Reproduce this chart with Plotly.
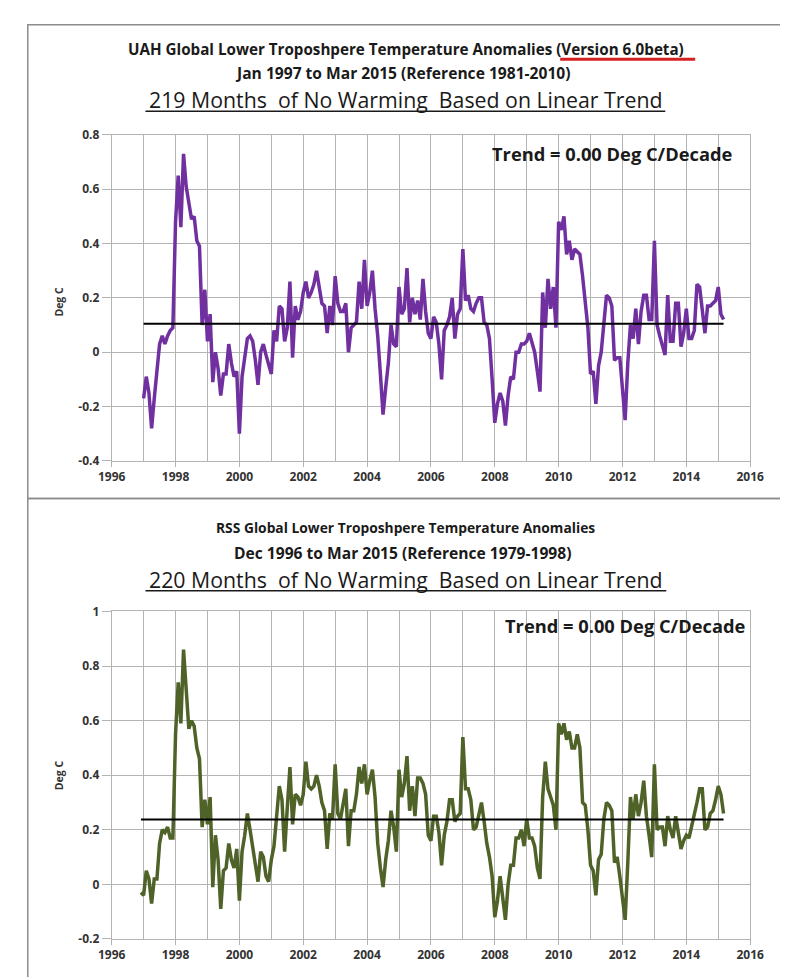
import numpy as np
import plotly.graph_objects as go

W, H = 788, 977

# ---------------- data ----------------
uah_start = 1997.0          # Jan 1997
uah_values = [
    -0.17, -0.09, -0.15, -0.28, -0.17, -0.06, 0.03, 0.06, 0.03, 0.06, 0.08, 0.09,   # 1997
    0.48, 0.65, 0.46, 0.73, 0.61, 0.55, 0.49, 0.50, 0.41, 0.39, 0.10, 0.23,        # 1998
    0.04, 0.14, -0.11, 0.00, -0.06, -0.16, -0.08, -0.08, 0.03, -0.04, -0.09, -0.07, # 1999
    -0.30, -0.09, -0.02, 0.05, 0.06, 0.04, -0.03, -0.12, 0.00, 0.03, -0.01, -0.05, # 2000
    -0.08, 0.08, 0.04, 0.17, 0.16, 0.04, 0.09, 0.26, -0.02, 0.17, 0.12, 0.15,      # 2001
    0.22, 0.26, 0.20, 0.22, 0.25, 0.30, 0.23, 0.18, 0.17, 0.07, 0.17, 0.10,        # 2002
    0.28, 0.18, 0.15, 0.15, 0.18, 0.00, 0.09, 0.10, 0.11, 0.26, 0.16, 0.34,        # 2003
    0.17, 0.22, 0.30, 0.16, 0.06, -0.08, -0.23, -0.13, -0.04, 0.10, 0.03, 0.02,    # 2004
    0.24, 0.14, 0.16, 0.31, 0.11, 0.20, 0.14, 0.19, 0.12, 0.27, 0.15, 0.07,        # 2005
    0.05, 0.13, 0.11, 0.03, -0.10, 0.08, 0.10, 0.13, 0.20, 0.05, 0.14, 0.16,       # 2006
    0.38, 0.19, 0.21, 0.16, 0.15, 0.18, 0.20, 0.20, 0.11, 0.10, 0.05, -0.10,       # 2007
    -0.26, -0.19, -0.15, -0.18, -0.27, -0.16, -0.09, -0.10, 0.00, 0.00, 0.03, 0.03, # 2008
    0.04, 0.07, 0.03, 0.00, -0.07, -0.145, 0.22, 0.09, 0.27, 0.16, 0.24, 0.09,     # 2009
    0.48, 0.45, 0.50, 0.36, 0.41, 0.34, 0.38, 0.37, 0.36, 0.28, 0.17, 0.09,        # 2010
    -0.08, -0.07, -0.19, -0.05, 0.00, 0.10, 0.21, 0.20, 0.17, -0.03, -0.02, -0.02, # 2011
    -0.15, -0.25, -0.04, 0.10, 0.05, 0.16, 0.03, 0.15, 0.21, 0.21, 0.12, 0.12,     # 2012
    0.41, 0.10, 0.06, 0.03, -0.01, 0.21, 0.04, 0.04, 0.18, 0.18, 0.02, 0.07,       # 2013
    0.16, 0.05, 0.05, 0.08, 0.25, 0.24, 0.16, 0.07, 0.17, 0.17, 0.18, 0.19,        # 2014
    0.24, 0.14, 0.12,                                                             # 2015
]
uah_trend = [0.105, 0.105]

rss_start = 1996 + 11 / 12  # Dec 1996
rss_values = [
    -0.03,                                                                        # Dec 1996
    -0.04, 0.05, 0.02, -0.07, 0.02, 0.02, 0.15, 0.20, 0.19, 0.21, 0.17, 0.17,      # 1997
    0.55, 0.74, 0.59, 0.86, 0.71, 0.57, 0.60, 0.58, 0.50, 0.46, 0.21, 0.31,        # 1998
    0.22, 0.32, -0.01, 0.18, 0.09, -0.09, 0.05, 0.06, 0.15, 0.09, 0.06, 0.13,      # 1999
    -0.06, 0.12, 0.18, 0.26, 0.20, 0.13, 0.07, 0.01, 0.12, 0.10, 0.03, 0.01,       # 2000
    0.09, 0.14, 0.25, 0.36, 0.31, 0.12, 0.28, 0.43, 0.22, 0.33, 0.32, 0.29,        # 2001
    0.33, 0.45, 0.36, 0.35, 0.36, 0.40, 0.36, 0.30, 0.27, 0.13, 0.26, 0.24,        # 2002
    0.44, 0.26, 0.24, 0.30, 0.35, 0.14, 0.27, 0.27, 0.33, 0.43, 0.37, 0.44,        # 2003
    0.33, 0.38, 0.42, 0.32, 0.15, 0.06, -0.01, 0.09, 0.16, 0.27, 0.21, 0.12,       # 2004
    0.42, 0.32, 0.37, 0.47, 0.27, 0.36, 0.25, 0.39, 0.39, 0.37, 0.33, 0.18,        # 2005
    0.16, 0.25, 0.25, 0.19, 0.07, 0.18, 0.23, 0.31, 0.31, 0.23, 0.25, 0.26,        # 2006
    0.54, 0.35, 0.35, 0.31, 0.20, 0.21, 0.25, 0.30, 0.23, 0.15, 0.10, 0.03,        # 2007
    -0.12, -0.06, 0.03, -0.05, -0.13, 0.00, 0.07, 0.07, 0.17, 0.17, 0.20, 0.14,    # 2008
    0.24, 0.17, 0.17, 0.14, 0.06, 0.02, 0.32, 0.45, 0.35, 0.32, 0.29, 0.20,        # 2009
    0.59, 0.55, 0.59, 0.53, 0.56, 0.50, 0.50, 0.55, 0.50, 0.30, 0.29, 0.20,        # 2010
    0.07, 0.05, -0.04, 0.09, 0.11, 0.24, 0.30, 0.29, 0.27, 0.08, 0.10, 0.03,       # 2011
    -0.06, -0.13, 0.08, 0.32, 0.24, 0.33, 0.25, 0.30, 0.38, 0.25, 0.18, 0.10,      # 2012
    0.44, 0.20, 0.21, 0.21, 0.14, 0.25, 0.20, 0.17, 0.25, 0.18, 0.13, 0.16,        # 2013
    0.18, 0.17, 0.21, 0.25, 0.30, 0.35, 0.35, 0.20, 0.21, 0.26, 0.27, 0.31,        # 2014
    0.36, 0.33, 0.26,                                                             # 2015
]
rss_trend = [0.238, 0.238]

x_tickvals = [1996, 1998, 2000, 2002, 2004, 2006, 2008, 2010, 2012, 2014, 2016]
x_ticktext = ["1996", "1998", "2000", "2002", "2004", "2006", "2008", "2010", "2012", "2014", "2016"]
uah_yvals = [-0.4, -0.2, 0, 0.2, 0.4, 0.6, 0.8]
uah_ytext = ["-0.4", "-0.2", "0", "0.2", "0.4", "0.6", "0.8"]
rss_yvals = [-0.2, 0, 0.2, 0.4, 0.6, 0.8, 1.0]
rss_ytext = ["-0.2", "0", "0.2", "0.4", "0.6", "0.8", "1"]

uah_titles = ["UAH Global Lower Troposhpere Temperature Anomalies (Version 6.0beta)",
              "Jan 1997 to Mar 2015 (Reference 1981-2010)",
              "219 Months\u00a0 of No Warming\u00a0 Based on Linear Trend"]
rss_titles = ["RSS Global Lower Troposhpere Temperature Anomalies",
              "Dec 1996 to Mar 2015 (Reference 1979-1998)",
              "220 Months\u00a0 of No Warming\u00a0 Based on Linear Trend"]
trend_label = "Trend = 0.00 Deg C/Decade"
y_title = "Deg C"

# ---------------- derived x positions ----------------
uah_x = uah_start + np.arange(len(uah_values)) / 12
rss_x = rss_start + np.arange(len(rss_values)) / 12

def px(x):
    return x / W

def py(y):
    return 1 - y / H

FONT = "Open Sans"
GRID = "#b3b3b3"
TXT = "#333333"
DARK = "#1a1a1a"

fig = go.Figure()
fig.add_trace(go.Scatter(x=uah_x, y=uah_values, mode="lines",
                         line=dict(color="#7030a0", width=3.5), xaxis="x", yaxis="y",
                         showlegend=False))
fig.add_trace(go.Scatter(x=[uah_x[0], uah_x[-1]], y=uah_trend, mode="lines",
                         line=dict(color="#000000", width=2), xaxis="x", yaxis="y",
                         showlegend=False))
fig.add_trace(go.Scatter(x=rss_x, y=rss_values, mode="lines",
                         line=dict(color="#4f6228", width=3.5), xaxis="x2", yaxis="y2",
                         showlegend=False))
fig.add_trace(go.Scatter(x=[rss_x[0], rss_x[-1]], y=rss_trend, mode="lines",
                         line=dict(color="#000000", width=2), xaxis="x2", yaxis="y2",
                         showlegend=False))

xdom = [px(93), px(755)]
tickfont = dict(family=FONT, size=12, color=TXT, weight="bold")
common_x = dict(range=[1996, 2016], tickvals=x_tickvals, ticktext=x_ticktext,
                showgrid=True, gridcolor=GRID, gridwidth=1,
                minor=dict(dtick=1, tick0=1996, showgrid=True, gridcolor=GRID, gridwidth=1),
                showline=True, linecolor=GRID, linewidth=1, mirror=True,
                ticks="outside", ticklen=5, tickcolor=GRID,
                tickfont=tickfont, zeroline=False, fixedrange=True)
common_y = dict(showgrid=True, gridcolor=GRID, gridwidth=1,
                showline=True, linecolor=GRID, linewidth=1, mirror=True,
                ticks="outside", ticklen=9, tickcolor=GRID,
                tickfont=tickfont, zeroline=False, fixedrange=True)

fig.update_layout(
    width=W, height=H, margin=dict(l=0, r=0, t=0, b=0),
    paper_bgcolor="white", plot_bgcolor="white",
    xaxis=dict(domain=xdom, anchor="y", **common_x),
    yaxis=dict(domain=[py(451.7), py(120)], anchor="x", range=[-0.4, 0.8],
               tickvals=uah_yvals, ticktext=uah_ytext, **common_y),
    xaxis2=dict(domain=xdom, anchor="y2", **common_x),
    yaxis2=dict(domain=[py(938.3), py(605)], anchor="x2", range=[-0.2, 1.0],
                tickvals=rss_yvals, ticktext=rss_ytext, **common_y),
)

ann = []
def title_block(titles, ys, sizes):
    ann.append(dict(text=titles[0], x=px(398), y=py(ys[0]), xref="paper", yref="paper",
                    showarrow=False, xanchor="center", yanchor="middle",
                    font=dict(family=FONT, size=sizes[0], color=DARK, weight="bold")))
    ann.append(dict(text=titles[1], x=px(395), y=py(ys[1]), xref="paper", yref="paper",
                    showarrow=False, xanchor="center", yanchor="middle",
                    font=dict(family=FONT, size=sizes[1], color=DARK, weight="bold")))
    ann.append(dict(text=titles[2], x=px(398), y=py(ys[2]), xref="paper", yref="paper",
                    showarrow=False, xanchor="center", yanchor="middle",
                    font=dict(family=FONT, size=sizes[2], color=DARK)))

title_block(uah_titles, [33, 57, 84], [15.2, 15.6, 21.3])
title_block(rss_titles, [520, 546, 572], [13.8, 15.6, 21.3])

ann.append(dict(text="<b>" + trend_label + "</b>", x=px(738), y=py(139), xref="paper", yref="paper",
                showarrow=False, xanchor="right", yanchor="middle",
                font=dict(family=FONT, size=18.3, color=DARK)))
ann.append(dict(text="<b>" + trend_label + "</b>", x=px(752), y=py(619), xref="paper", yref="paper",
                showarrow=False, xanchor="right", yanchor="middle",
                font=dict(family=FONT, size=18.3, color=DARK)))
for yc in (290, 772):
    ann.append(dict(text="<b>" + y_title + "</b>", x=px(38), y=py(yc), xref="paper", yref="paper",
                    showarrow=False, textangle=-90, xanchor="center", yanchor="middle",
                    font=dict(family=FONT, size=10.5, color=TXT)))
fig.update_layout(annotations=ann)

shapes = [
    # chart frames
    dict(type="rect", xref="paper", yref="paper", x0=px(6), x1=px(800), y0=py(490), y1=py(8),
         line=dict(color="#8c8c8c", width=1.5), fillcolor="rgba(0,0,0,0)", layer="below"),
    dict(type="rect", xref="paper", yref="paper", x0=px(6), x1=px(800), y0=py(990), y1=py(490),
         line=dict(color="#8c8c8c", width=1.5), fillcolor="rgba(0,0,0,0)", layer="below"),
    # underlines of the headline titles
    dict(type="line", xref="paper", yref="paper", x0=px(128), x1=px(667), y0=py(96), y1=py(96),
         line=dict(color=DARK, width=1.5)),
    dict(type="line", xref="paper", yref="paper", x0=px(128), x1=px(668), y0=py(584), y1=py(584),
         line=dict(color=DARK, width=1.5)),
    # red hand-drawn highlight under "(Version 6.0beta)"
    dict(type="line", xref="paper", yref="paper", x0=px(558), x1=px(698), y0=py(43), y1=py(43),
         line=dict(color="#d42020", width=3)),
]
fig.update_layout(shapes=shapes)

fig.write_html("out.html")
